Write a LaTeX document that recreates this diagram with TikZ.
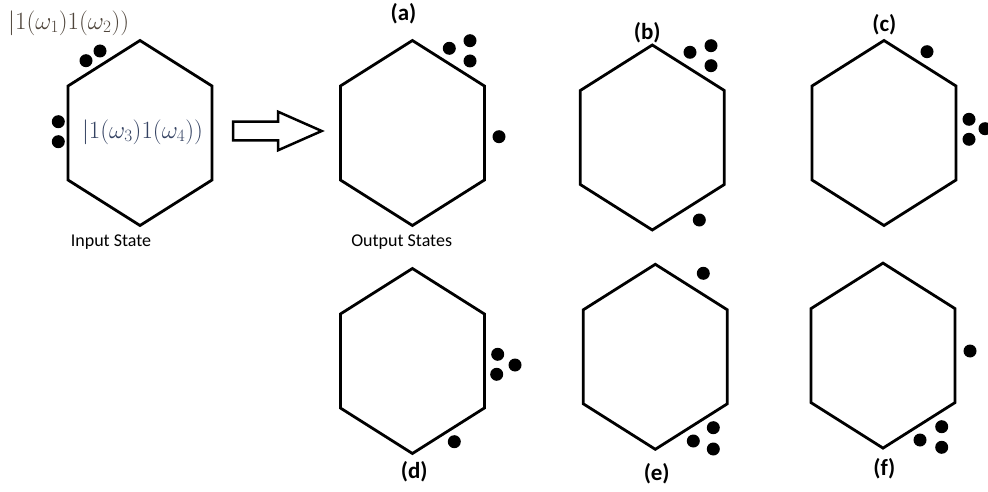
\documentclass[tikz,border=0pt]{standalone}
\usepackage{fontspec}
\setsansfont{Carlito}
\begin{document}
\begin{tikzpicture}[x=1pt,y=-1pt,
  hexline/.style={line width=2.8pt,line join=miter},
  photon/.style={fill=black},
  ketA/.style={text=ketbrown,inner sep=0pt,font=\fontsize{24}{27}\selectfont},
  ketB/.style={text=ketblue,inner sep=0pt,font=\fontsize{25.5}{28}\selectfont},
  caption/.style={inner sep=0pt,font=\sffamily\fontsize{18}{20}\selectfont},
  tag/.style={inner sep=0pt,font=\sffamily\bfseries\fontsize{23}{26}\selectfont}]
\definecolor{ketbrown}{RGB}{78,68,58}
\definecolor{ketblue}{RGB}{52,66,98}
\useasboundingbox (0,0) rectangle (988,492);

% stretched hexagon centred at (#1,#2), named #3
\newcommand{\hexcell}[3]{%
  \coordinate (#3) at (#1,#2);
  \draw[hexline] ([shift={(0,-92.5)}]#3) -- ([shift={(72,-47)}]#3)
    -- ([shift={(72,47)}]#3) -- ([shift={(0,92.5)}]#3)
    -- ([shift={(-72,47)}]#3) -- ([shift={(-72,-47)}]#3) -- cycle;}
\newcommand{\photonat}[2]{\fill[photon] (#1,#2) circle (6.5);}

% input state
\hexcell{140}{133}{hin}
\photonat{86}{60.7}\photonat{100}{51}
\photonat{58.3}{121.7}\photonat{58.3}{141.7}
\node[ketA,anchor=west] (k12) at (8,23) {$|1(\omega_1)1(\omega_2))$};
\node[ketB] (k34) at (142.5,132) {$|1(\omega_3)1(\omega_4))$};
\node[caption] (cin) at (111,242) {Input State};

% hollow block arrow
\draw[line width=2.5pt,line join=miter]
  (233,121.7) -- (278,121.7) -- (278,111.7) -- (321.7,131)
  -- (278,150.3) -- (278,140.3) -- (233,140.3) -- cycle;

% output states, top row
\hexcell{412.4}{133}{ha}
\photonat{449.3}{48.3}\photonat{470}{40.7}\photonat{470}{61}
\photonat{499}{136.7}
\node[tag] (la) at (403.5,14) {(a)};
\node[caption] (cout) at (401.7,242) {Output States};

\hexcell{652.3}{137.5}{hb}
\photonat{690}{52.3}\photonat{711}{45.7}\photonat{711}{65.7}
\photonat{699.3}{220}
\node[tag] (lb) at (647.3,32.3) {(b)};

\hexcell{884}{133}{hc}
\photonat{927}{51.7}
\photonat{969}{119.3}\photonat{969}{139.3}\photonat{985}{128.7}
\node[tag] (lc) at (884.3,25) {(c)};

% output states, bottom row
\hexcell{412.4}{361}{hd}
\photonat{497.7}{354.3}\photonat{496.7}{374.3}\photonat{515}{365}
\photonat{454.3}{441.7}
\node[tag] (ld) at (414.3,471.7) {(d)};

\hexcell{655.3}{356.8}{he}
\photonat{703.3}{273.3}
\photonat{713.3}{427.7}\photonat{693.3}{441}\photonat{713.3}{449}
\node[tag] (le) at (656.7,473.3) {(e)};

\hexcell{883}{355.6}{hf}
\photonat{970}{351}
\photonat{941.7}{426.7}\photonat{920}{440}\photonat{941.7}{447.3}
\node[tag] (lf) at (884.3,468.3) {(f)};
\end{tikzpicture}
\end{document}
